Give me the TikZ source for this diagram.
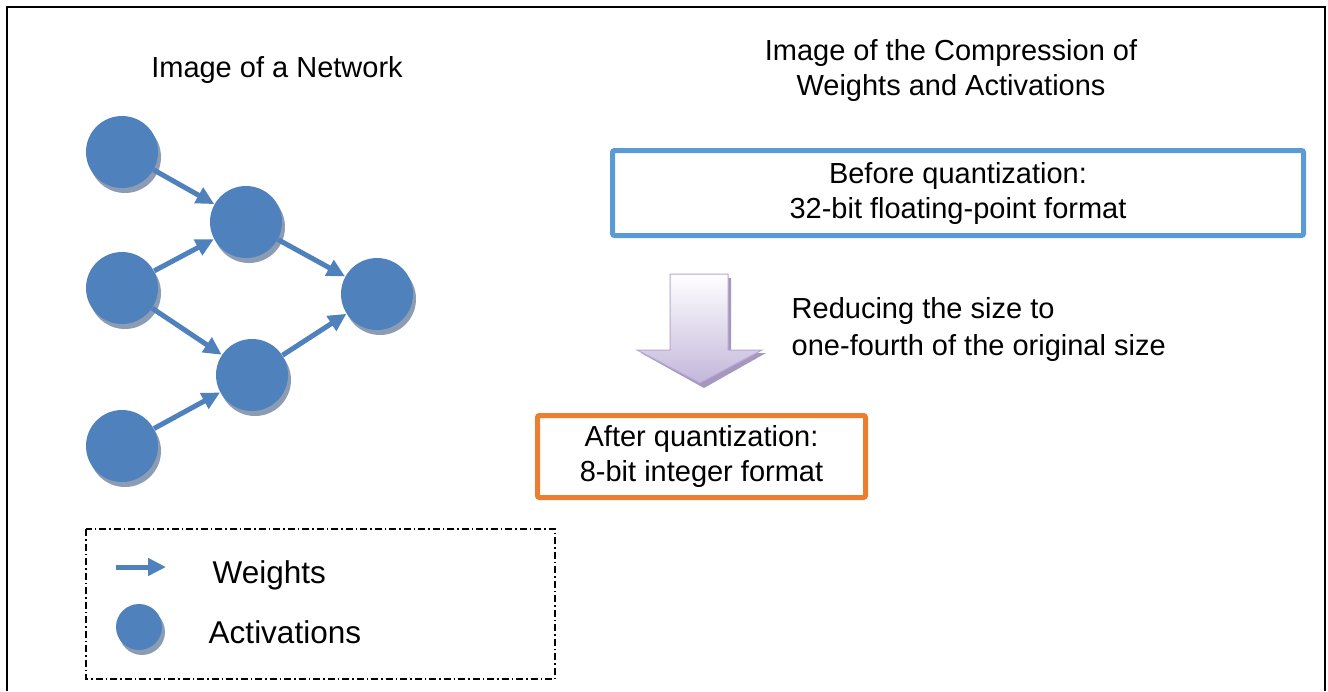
\documentclass[tikz,border=0pt]{standalone}
\usepackage{fontspec}
\setmainfont{Liberation Sans}
\usetikzlibrary{positioning, arrows.meta, shadows}
\definecolor{nodeblue}{HTML}{4F81BD}
\definecolor{nodeshade}{HTML}{8C9CB2}
\definecolor{boxblue}{HTML}{5B9BD5}
\definecolor{boxorange}{HTML}{ED7D31}
\definecolor{lilac}{HTML}{C3B7DA}
\definecolor{lilacedge}{HTML}{B7A8D0}
\definecolor{lilacshade}{HTML}{A597BF}

\begin{document}
\begin{tikzpicture}[x=1pt, y=-1pt, thick, every node/.style={font=\fontsize{29}{35}\selectfont, align=center}]
  \useasboundingbox (0,0) rectangle (1328,691);
  \tikzset{
    neuron/.style={circle, fill=nodeblue, inner sep=0pt, minimum size=72pt,
      general shadow={fill=nodeshade, shadow xshift=3pt, shadow yshift=-5pt}},
    weight/.style={draw=nodeblue, line width=5pt, -{Triangle[length=18pt, width=17pt]}},
    quantbox/.style={line width=5pt, rounded corners=2pt, inner sep=0pt},
    legendtext/.style={anchor=west, font=\fontsize{31.5}{36}\selectfont}
  }

  % Frame
  \draw[line width=2.5pt] (7,691) -- (7,7) -- (1325,7) -- (1325,691);

  % Titles
  \node (nettitle) at (277,70) {Image of a Network};
  \node (comptitle) at (951,70) {Image of the Compression of\\Weights and Activations};

  % Network
  \node[neuron] (in1) at (122,152) {};
  \node[neuron] (in2) at (122,288) {};
  \node[neuron] (in3) at (122,446) {};
  \node[neuron] (hid1) at (246,222) {};
  \node[neuron] (hid2) at (252,375) {};
  \node[neuron] (out) at (377,294) {};

  \draw[weight] (in1) -- (hid1);
  \draw[weight] (in2) -- (hid1);
  \draw[weight] (in2) -- (hid2);
  \draw[weight] (in3) -- (hid2);
  \draw[weight] (hid1) -- (out);
  \draw[weight] (hid2) -- (out);

  % Legend
  \draw[line width=1.3pt, dash pattern=on 7pt off 3pt on 1.5pt off 3pt] (86,529) rectangle (555,679);
  \coordinate (wstart) at (116,567);
  \coordinate (wend) at (166,567);
  \draw[weight] (wstart) -- (wend);
  \node[legendtext] (wlabel) at (209,575) {Weights};
  \node[neuron, minimum size=46pt] (act) at (139,627) {};
  \node[legendtext] (alabel) at (205,632) {Activations};

  % Boxes
  \node[quantbox, draw=boxblue, minimum width=691pt, minimum height=85pt] (before) at (958,193)
    {Before quantization:\\32-bit floating-point format};
  \node[quantbox, draw=boxorange, minimum width=328pt, minimum height=82pt] (after) at (701.5,456.5)
    {After quantization:\\8-bit integer format};

  % Down arrow
  \fill[lilacshade] (673,278) -- (731,278) -- (731,353) -- (766,353) -- (704,388) -- (641,353) -- (673,353) -- cycle;
  \shade[top color=white, bottom color=lilac, draw=lilacedge, line width=1pt]
    (670,274) -- (728,274) -- (728,350) -- (762,350) -- (700,383) -- (637,350) -- (670,350) -- cycle;

  \node[anchor=west, align=left, font=\fontsize{29}{37}\selectfont] (reduce) at (788,329)
    {Reducing the size to\\one-fourth of the original size};
\end{tikzpicture}
\end{document}
